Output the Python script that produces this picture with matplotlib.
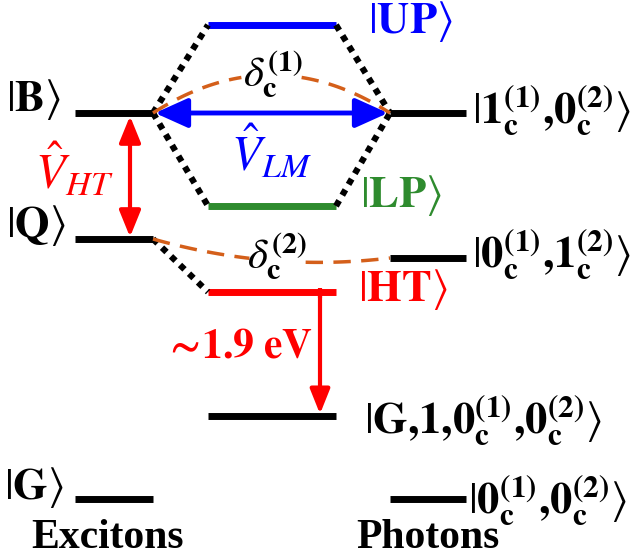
import matplotlib
matplotlib.use("Agg")
import matplotlib.pyplot as plt
from matplotlib.patches import FancyArrowPatch
import numpy as np

plt.rcParams['mathtext.fontset'] = 'stix'
plt.rcParams['font.family'] = ['Liberation Serif', 'DejaVu Serif']

# energy levels (pixel-like units, top = high energy)
exc_names = ['B', 'Q', 'G']
exc_y = [113, 239, 499]
pol_names = ['UP', 'LP', 'HT', 'G1']
pol_y = [25, 206, 292, 416]
pol_colors = ['#0000ff', '#2e8b2e', '#ff0000', 'black']
pho_names = ['10', '01', '00']
pho_y = [113, 258, 499]

# columns
exc_x = (75, 153)
pol_x = (208, 336)
pho_x = (390, 466)

fig = plt.figure(figsize=(6.38, 5.59), dpi=100)
ax = fig.add_axes([0, 0, 1, 1])
ax.set_xlim(0, 638)
ax.set_ylim(559, 0)
ax.axis('off')

lw_level = 5
for y in exc_y:
    ax.plot(exc_x, [y, y], color='black', lw=lw_level, solid_capstyle='butt')
for y, c in zip(pol_y, pol_colors):
    ax.plot(pol_x, [y, y], color=c, lw=lw_level, solid_capstyle='butt')
for y in pho_y:
    ax.plot(pho_x, [y, y], color='black', lw=lw_level, solid_capstyle='butt')

# dotted correlation lines
dot = dict(color='black', lw=4.5, dashes=(1, 1), dash_capstyle='butt')
ax.plot([exc_x[1], pol_x[0]], [exc_y[0], pol_y[0]], **dot)
ax.plot([exc_x[1], pol_x[0]], [exc_y[0], pol_y[1]], **dot)
ax.plot([pol_x[1], pho_x[0]], [pol_y[0], pho_y[0]], **dot)
ax.plot([pol_x[1], pho_x[0]], [pol_y[1], pho_y[0]], **dot)
ax.plot([exc_x[1], pol_x[0]], [exc_y[1], pol_y[2]], **dot)

# detuning dashed curves
orange = '#d45f1a'
t = np.linspace(0, 1, 60)
xs = exc_x[1] + (pho_x[0] - exc_x[1]) * t
y1 = exc_y[0] - 4 * 38 * t * (1 - t)
y2 = exc_y[1] + (pho_y[1] - exc_y[1]) * t + 4 * 12 * t * (1 - t)
m1 = (xs < 243) | (xs > 300)
m2 = (xs < 250) | (xs > 303)
for y, m in [(y1, m1), (y2, m2)]:
    seg = np.where(m, y, np.nan)
    ax.plot(xs, seg, color=orange, lw=2.5, dashes=(5, 3))

ax.text(273, 74, r'$\delta_{\mathbf{c}}^{\mathbf{(1)}}$', fontsize=31,
        ha='center', va='center')
ax.text(277, 256, r'$\delta_{\mathbf{c}}^{\mathbf{(2)}}$', fontsize=31,
        ha='center', va='center')

# couplings
ax.add_patch(FancyArrowPatch((exc_x[1] + 2, exc_y[0]), (pho_x[0] - 2, pho_y[0]),
                             arrowstyle='<|-|>,head_length=20,head_width=9',
                             color='#0000ff', lw=3.5, shrinkA=0, shrinkB=0,
                             mutation_scale=1))
ax.add_patch(FancyArrowPatch((130, exc_y[0] + 3), (130, exc_y[1] - 2),
                             arrowstyle='<|-|>,head_length=16,head_width=6.5',
                             color='#ff0000', lw=3, shrinkA=0, shrinkB=0,
                             mutation_scale=1))
ax.plot([320, 320], [pol_y[2] - 4, pol_y[2] + 6], color='#ff0000', lw=3,
        solid_capstyle='butt')
ax.add_patch(FancyArrowPatch((320, pol_y[2]), (320, pol_y[3] - 2),
                             arrowstyle='-|>,head_length=15,head_width=6',
                             color='#ff0000', lw=3, shrinkA=0, shrinkB=0,
                             mutation_scale=1))

ax.text(272, 152, r'$\hat{V}_{LM}$', fontsize=35, color='#0000ff',
        ha='center', va='center')
ax.text(74, 170, r'$\hat{V}_{HT}$', fontsize=35, color='#ff0000',
        ha='center', va='center')
ax.text(238, 347, r'$\mathbf{\sim\!1.9\ eV}$', fontsize=30, color='#ff0000',
        ha='center', va='center')

# state labels
fs = 32
ax.text(6, 100, r'$|\mathbf{B}\rangle$', fontsize=fs, va='center')
ax.text(6, 226, r'$|\mathbf{Q}\rangle$', fontsize=fs, va='center')
ax.text(4, 488, r'$|\mathbf{G}\rangle$', fontsize=fs, va='center')
ax.text(368, 22, r'$|\mathbf{UP}\rangle$', fontsize=fs, va='center',
        color='#0000ff')
ax.text(360, 196, r'$|\mathbf{LP}\rangle$', fontsize=fs, va='center',
        color='#2e8b2e')
ax.text(358, 290, r'$|\mathbf{HT}\rangle$', fontsize=fs, va='center',
        color='#ff0000')
ax.text(472, 110, r'$|\mathbf{1_c^{(1)}{,}0_c^{(2)}}\rangle$',
        fontsize=fs, va='center')
ax.text(472, 254, r'$|\mathbf{0_c^{(1)}{,}1_c^{(2)}}\rangle$',
        fontsize=fs, va='center')
ax.text(364, 420, r'$|\mathbf{G{,}1{,}0_c^{(1)}{,}0_c^{(2)}}\rangle$',
        fontsize=fs, va='center')
ax.text(468, 500, r'$|\mathbf{0_c^{(1)}{,}0_c^{(2)}}\rangle$',
        fontsize=fs, va='center')

ax.text(108, 538, 'Excitons', fontsize=30, fontweight='bold', ha='center',
        va='center')
ax.text(428, 538, 'Photons', fontsize=30, fontweight='bold', ha='center',
        va='center')

fig.savefig('out.png', dpi=100)
